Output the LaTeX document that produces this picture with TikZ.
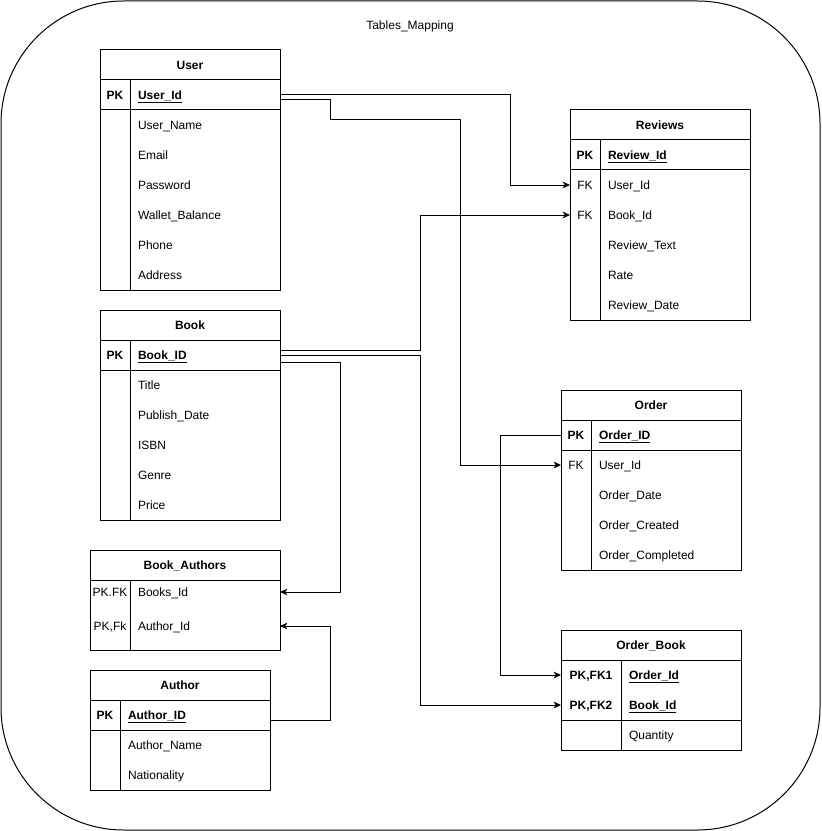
\documentclass[tikz,border=0pt]{standalone}
\usepackage{fontspec}
\setmainfont{Liberation Sans}
\usetikzlibrary{arrows.meta}
\newcommand*\px{0.75pt}
\newcommand*\pkname[1]{\textbf{\underline{#1}}}
\tikzset{
    every node/.style = {font=\fontsize{9}{11}\selectfont},
    headcell/.style   = {draw, anchor=north west, minimum height=30*\px,
                         inner sep=0pt, outer sep=0pt,
                         text height=6.5pt, text depth=0pt,
                         font=\fontsize{9}{11}\selectfont\bfseries},
    keycell/.style    = {minimum height=30*\px, inner sep=0pt, outer sep=0pt,
                         text height=6.5pt, text depth=0pt},
    pkcell/.style     = {keycell, font=\fontsize{9}{11}\selectfont\bfseries},
    fieldcell/.style  = {anchor=west, minimum height=30*\px, inner xsep=8*\px,
                         inner ysep=0pt, outer sep=0pt, align=left,
                         text height=6.5pt, text depth=0pt},
    fk/.style         = {-{Stealth[length=5.5pt,width=5pt,inset=1.5pt]}},
  }

\begin{document}
\begin{tikzpicture}[x=\px, y=-\px, line width=\px]
    \useasboundingbox (0,0) rectangle (821,831);
    % outer frame and title
    \draw[rounded corners=92pt] (1,1) rectangle (820,830);
    \node[text height=6.5pt, text depth=0pt] (title) at (410,25) {Tables\_Mapping};

    % User
    \node[headcell, minimum width=180*\px] (user) at (100,50) {User};
    \draw (100,80) rectangle (280,290);
    \draw (100,110) -- (280,110) (130,80) -- (130,290);
    \node[pkcell, minimum width=30*\px] (user-key) at (115,95) {PK};
    \node[fieldcell, text width=134*\px] (user-pk) at (130,95) {\pkname{User\_Id}};
    \foreach \f [count=\i] in {User\_Name,Email,Password,Wallet\_Balance,Phone,Address}
        \node[fieldcell, text width=134*\px] (user-f\i) at (130,95+30*\i) {\f};

    % Reviews
    \node[headcell, minimum width=180*\px] (rev) at (570,110) {Reviews};
    \draw (570,140) rectangle (750,320);
    \draw (570,170) -- (750,170) (600,140) -- (600,320);
    \node[pkcell, minimum width=30*\px] (rev-key) at (585,155) {PK};
    \node[fieldcell, text width=134*\px] (rev-pk) at (600,155) {\pkname{Review\_Id}};
    \foreach \k/\f [count=\i] in {FK/User\_Id,FK/Book\_Id,/Review\_Text,/Rate,/Review\_Date} {
        \node[keycell, minimum width=30*\px] (rev-k\i) at (585,155+30*\i) {\k};
        \node[fieldcell, text width=134*\px] (rev-f\i) at (600,155+30*\i) {\f};
    }

    % Book
    \node[headcell, minimum width=180*\px] (book) at (100,310) {Book};
    \draw (100,340) rectangle (280,520);
    \draw (100,370) -- (280,370) (130,340) -- (130,520);
    \node[pkcell, minimum width=30*\px] (book-key) at (115,355) {PK};
    \node[fieldcell, text width=134*\px] (book-pk) at (130,355) {\pkname{Book\_ID}};
    \foreach \f [count=\i] in {Title,Publish\_Date,ISBN,Genre,Price}
        \node[fieldcell, text width=134*\px] (book-f\i) at (130,355+30*\i) {\f};

    % Book_Authors
    \node[headcell, minimum width=190*\px] (ba) at (90,550) {Book\_Authors};
    \draw (90,580) rectangle (280,650);
    \draw (130,580) -- (130,650);
    \node[keycell, minimum width=40*\px] (ba-k1) at (110,592) {PK.FK};
    \node[fieldcell, text width=134*\px] (ba-f1) at (130,592) {Books\_Id};
    \node[keycell, minimum width=40*\px] (ba-k2) at (110,626) {PK,Fk};
    \node[fieldcell, text width=134*\px] (ba-f2) at (130,626) {Author\_Id};

    % Author
    \node[headcell, minimum width=180*\px] (auth) at (90,670) {Author};
    \draw (90,700) rectangle (270,790);
    \draw (90,730) -- (270,730) (120,700) -- (120,790);
    \node[pkcell, minimum width=30*\px] (auth-key) at (105,715) {PK};
    \node[fieldcell, text width=134*\px] (auth-pk) at (120,715) {\pkname{Author\_ID}};
    \foreach \f [count=\i] in {Author\_Name,Nationality}
        \node[fieldcell, text width=134*\px] (auth-f\i) at (120,715+30*\i) {\f};

    % Order
    \node[headcell, minimum width=180*\px] (ord) at (561,390) {Order};
    \draw (561,420) rectangle (741,570);
    \draw (561,450) -- (741,450) (591,420) -- (591,570);
    \node[pkcell, minimum width=30*\px] (ord-key) at (576,435) {PK};
    \node[fieldcell, text width=134*\px] (ord-pk) at (591,435) {\pkname{Order\_ID}};
    \foreach \k/\f [count=\i] in {FK/User\_Id,/Order\_Date,/Order\_Created,/Order\_Completed} {
        \node[keycell, minimum width=30*\px] (ord-k\i) at (576,435+30*\i) {\k};
        \node[fieldcell, text width=134*\px] (ord-f\i) at (591,435+30*\i) {\f};
    }

    % Order_Book
    \node[headcell, minimum width=180*\px] (ob) at (561,630) {Order\_Book};
    \draw (561,660) rectangle (741,750);
    \draw (561,720) -- (741,720) (621,660) -- (621,750);
    \node[pkcell, minimum width=60*\px] (ob-k1) at (591,675) {PK,FK1};
    \node[fieldcell, text width=104*\px] (ob-f1) at (621,675) {\pkname{Order\_Id}};
    \node[pkcell, minimum width=60*\px] (ob-k2) at (591,705) {PK,FK2};
    \node[fieldcell, text width=104*\px] (ob-f2) at (621,705) {\pkname{Book\_Id}};
    \node[fieldcell, text width=104*\px] (ob-f3) at (621,735) {Quantity};

    % relations
    \draw[fk] (user-pk.east) -- ++(230,0) |- (rev-k1.west);
    \draw[fk] ([yshift=-5*\px]user-pk.east) -- ++(50,0) -- ++(0,20) -- ++(130,0) |- (ord-k1.west);
    \draw[fk] ([yshift=5*\px]book-pk.east) -- ++(140,0) |- (rev-k2.west);
    \draw[fk] (book-pk.east) -- ++(140,0) |- (ob-k2.west);
    \draw[fk] ([yshift=-7*\px]book-pk.east) -- ++(60,0) |- (ba-f1.east);
    \draw[fk] ([yshift=-5*\px]auth-pk.east) -- ++(60,0) |- (ba-f2.east);
    \draw[fk] (ord-key.west) -- ++(-61,0) |- (ob-k1.west);
\end{tikzpicture}
\end{document}
